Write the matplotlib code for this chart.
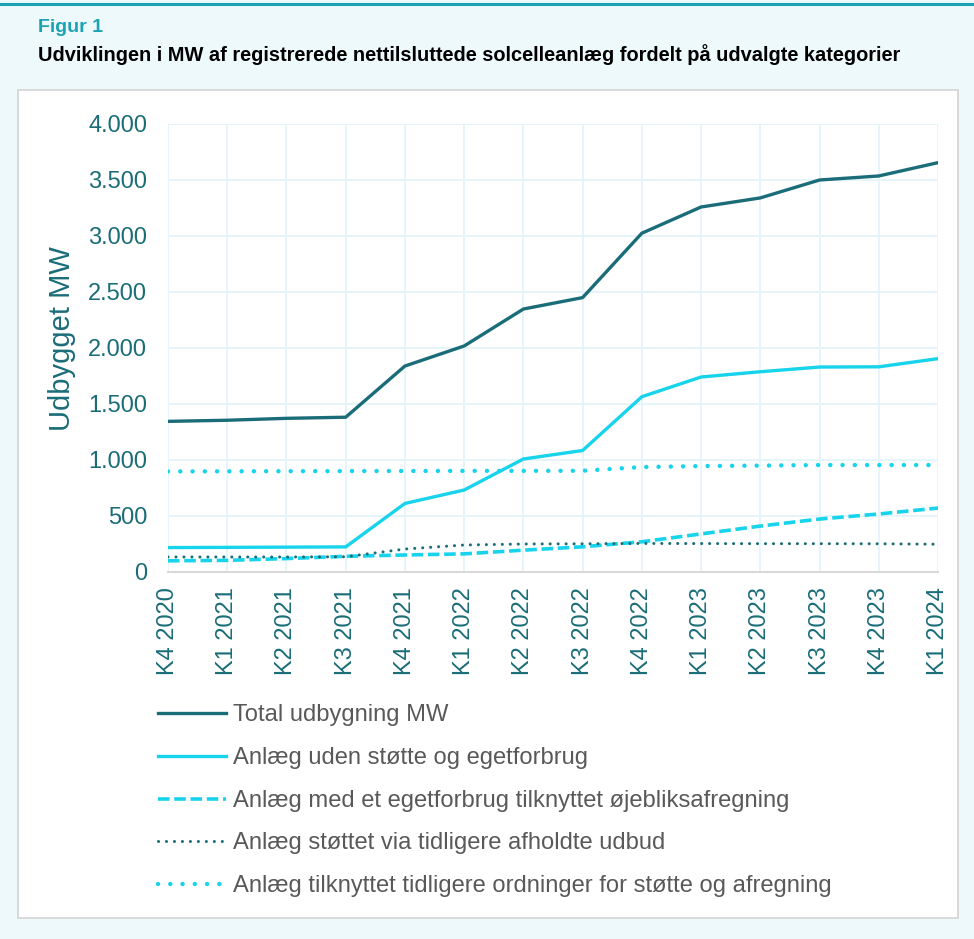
import matplotlib.pyplot as plt
from matplotlib.patches import Rectangle
from matplotlib.lines import Line2D

plt.rcParams['font.family'] = ['Liberation Sans', 'DejaVu Sans']

# ---- data (MW) ----
quarters = ["K4 2020", "K1 2021", "K2 2021", "K3 2021", "K4 2021", "K1 2022", "K2 2022",
            "K3 2022", "K4 2022", "K1 2023", "K2 2023", "K3 2023", "K4 2023", "K1 2024"]
total = [1345, 1355, 1372, 1382, 1839, 2018, 2348, 2450, 3025, 3259, 3340, 3500, 3536, 3655]
uden_stoette = [218, 220, 222, 224, 612, 732, 1009, 1085, 1565, 1741, 1788, 1830, 1832, 1905]
egetforbrug = [100, 104, 120, 140, 152, 162, 195, 225, 270, 340, 410, 473, 518, 571]
udbud = [134, 134, 134, 136, 205, 241, 250, 252, 255, 254, 253, 253, 252, 248]
ordninger = [898, 899, 900, 901, 902, 903, 903, 904, 937, 946, 950, 955, 955, 955]

labels = ["Total udbygning MW",
          "Anlæg uden støtte og egetforbrug",
          "Anlæg med et egetforbrug tilknyttet øjebliksafregning",
          "Anlæg støttet via tidligere afholdte udbud",
          "Anlæg tilknyttet tidligere ordninger for støtte og afregning"]

dark = "#1a6d78"
cyan = "#17d3ec"
teal_txt = "#1a6d78"

fig = plt.figure(figsize=(9.74, 9.39), dpi=100)
fig.patch.set_facecolor("#eef9fc")

# top rule and white chart panel
fig.add_artist(Line2D([0, 1], [1 - 4 / 939, 1 - 4 / 939], color="#1ba3b3", lw=2.2,
                      transform=fig.transFigure))
fig.add_artist(Rectangle((18 / 974, 1 - 918 / 939), 940 / 974, 828 / 939,
                         transform=fig.transFigure, facecolor="white",
                         edgecolor="#d4d4d4", lw=1.2, zorder=0))

fig.text(38 / 974, 1 - 27 / 939, "Figur 1", color="#1ba3b3", fontsize=14,
         fontweight="bold", va="center", ha="left")
fig.text(38 / 974, 1 - 55 / 939,
         "Udviklingen i MW af registrerede nettilsluttede solcelleanlæg fordelt på udvalgte kategorier",
         color="black", fontsize=14.4, fontweight="bold", va="center", ha="left")

ax = fig.add_axes([168 / 974, 1 - 572 / 939, 770 / 974, 448 / 939])
ax.set_facecolor("none")
x = list(range(len(quarters)))

h1, = ax.plot(x, total, color=dark, lw=2.4, solid_joinstyle="round")
h2, = ax.plot(x, uden_stoette, color=cyan, lw=2.4, solid_joinstyle="round")
h3, = ax.plot(x, egetforbrug, color=cyan, lw=2.6, linestyle=(0, (3.2, 1.3)))
h4, = ax.plot(x, udbud, color=dark, lw=2.2, linestyle=(0, (0.01, 2.6)),
              dash_capstyle="round")
h5, = ax.plot(x, ordninger, color=cyan, lw=3.2, linestyle=(0, (0.01, 2.75)),
              dash_capstyle="round")

ax.set_xlim(0, len(quarters) - 1)
ax.set_ylim(0, 4000)
ax.set_yticks(range(0, 4001, 500))
ax.set_yticklabels(["0" if v == 0 else f"{v:,}".replace(",", ".") for v in range(0, 4001, 500)])
ax.set_xticks(x)
ax.set_xticklabels(quarters, rotation=90)
ax.tick_params(axis="both", length=0, labelsize=17, colors=teal_txt)
ax.tick_params(axis="x", pad=11)
ax.tick_params(axis="y", pad=15)
ax.grid(True, color="#e3f5fa", lw=1.3)
ax.set_axisbelow(True)
for s in ["top", "right", "left"]:
    ax.spines[s].set_visible(False)
ax.spines["bottom"].set_color("#d9d9d9")
ax.spines["bottom"].set_linewidth(1.5)

ax.set_ylabel("Udbygget MW", fontsize=21, color=teal_txt)
ax.yaxis.set_label_coords(-0.12, 0.52)

fig.legend([h1, h2, h3, h4, h5], labels, loc="upper left",
           bbox_to_anchor=(148 / 974, 1 - 695 / 939), frameon=False, fontsize=17.1,
           labelcolor="#595959", handlelength=2.88, handletextpad=0.3,
           labelspacing=0.87, borderaxespad=0)

fig.savefig("out.png", dpi=100, facecolor=fig.get_facecolor())
